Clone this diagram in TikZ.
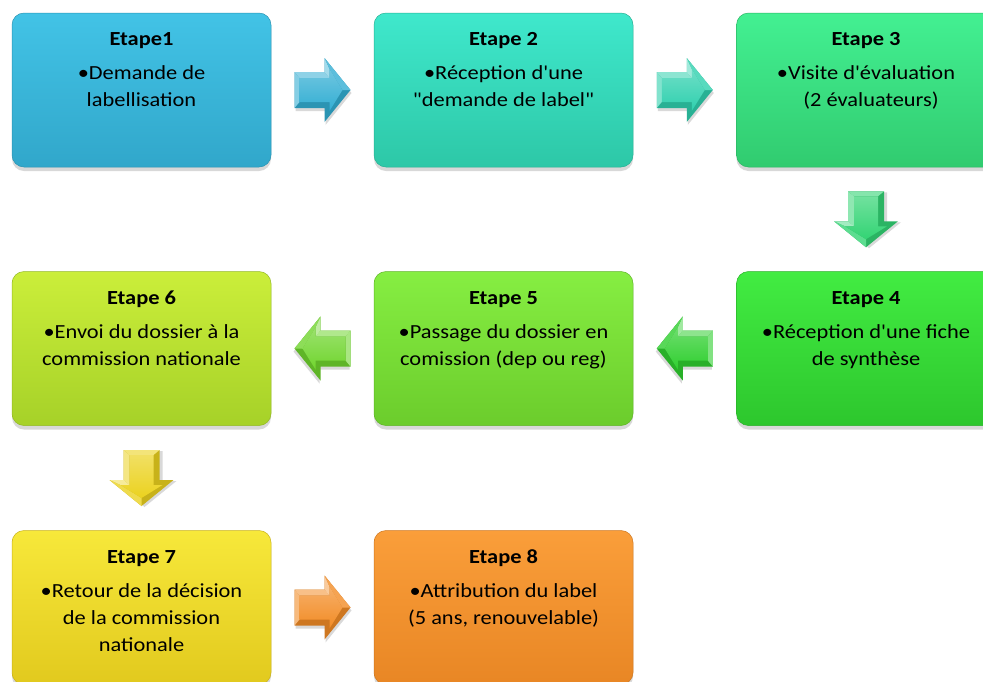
\documentclass[tikz,border=0pt]{standalone}
\usepackage{fontspec}
\setmainfont{Carlito}
\newfontfamily\boxfont[FakeStretch=1.12]{Carlito}
\usetikzlibrary{calc,shadows}
\definecolor{bA}{HTML}{33AED3}\definecolor{tA}{HTML}{42C3E6}
\definecolor{bB}{HTML}{2FD0AE}\definecolor{tB}{HTML}{3FE8CC}
\definecolor{bC}{HTML}{33D474}\definecolor{tC}{HTML}{43F092}
\definecolor{bD}{HTML}{2FCF2F}\definecolor{tD}{HTML}{42EC42}
\definecolor{bE}{HTML}{70D52E}\definecolor{tE}{HTML}{86EE42}
\definecolor{bF}{HTML}{ADDA2A}\definecolor{tF}{HTML}{CBEE3A}
\definecolor{bG}{HTML}{EBD21F}\definecolor{tG}{HTML}{F7E83A}
\definecolor{bH}{HTML}{F28C26}\definecolor{tH}{HTML}{FA9E3A}
\tikzset{
  x=1pt,y=1pt,
  stepbox/.style={rounded corners=12pt, minimum width=259pt, minimum height=154pt,
    inner sep=0pt, draw=b#1!85!black, line width=0.5pt,
    top color=t#1, bottom color=b#1!96!black,
    drop shadow={opacity=0.3, shadow xshift=0pt, shadow yshift=-4pt}},
  titletxt/.style={anchor=base, inner sep=0pt, font=\boxfont\bfseries\fontsize{20}{27}\selectfont},
  bodytxt/.style={anchor=north, inner sep=0pt, align=center, font=\boxfont\fontsize{20}{27}\selectfont},
}
\newcommand{\blockarrow}[4]{% name, center, transform, color
  \begin{scope}[shift={#2}, #3]
    \fill[black, opacity=0.15] (-27,15) -- (3,15) -- (3,29) -- (29,-3) -- (3,-35) -- (3,-21) -- (-27,-21) -- cycle;
    \fill[#4!85!black] (-28,18) -- (2,18) -- (2,32) -- (28,0) -- (2,-32) -- (2,-18) -- (-28,-18) -- cycle;
    \fill[#4!55!white] (-28,18) -- (2,18) -- (7,12) -- (-23,12) -- cycle;
    \fill[#4!45!white] (2,18) -- (2,32) -- (7,21) -- (7,12) -- cycle;
    \fill[#4!80!white] (2,32) -- (28,0) -- (20,0) -- (7,21) -- cycle;
    \fill[#4!60!white] (-28,18) -- (-23,12) -- (-23,-12) -- (-28,-18) -- cycle;
    \shade[top color=#4!70!white, bottom color=#4] (-23,12) -- (7,12) -- (7,21) -- (20,0) -- (7,-21) -- (7,-12) -- (-23,-12) -- cycle;
    \coordinate (#1) at (0,0);
  \end{scope}}
\begin{document}
\begin{tikzpicture}
\useasboundingbox (0,0) rectangle (983,-681);
\clip (0,0) rectangle (983,-681);
\fill[white] (0,0) rectangle (983,-681);
% boxes
\node[stepbox=A] (b1) at (141.5,-90) {};
\node[stepbox=B] (b2) at (503.5,-90) {};
\node[stepbox=C] (b3) at (866,-90) {};
\node[stepbox=D] (b4) at (866,-348.5) {};
\node[stepbox=E] (b5) at (503.5,-348.5) {};
\node[stepbox=F] (b6) at (141.5,-348.5) {};
\node[stepbox=G] (b7) at (141.5,-607.5) {};
\node[stepbox=H] (b8) at (503.5,-607.5) {};
% texts
\node[titletxt] (t1) at ($(b1.north)+(0,-33)$) {Etape1};
\node[bodytxt] (d1) at ($(b1.north)+(0,-48)$) {\strut\textbullet Demande de\\labellisation};
\node[titletxt] (t2) at ($(b2.north)+(0,-33)$) {Etape 2};
\node[bodytxt] (d2) at ($(b2.north)+(0,-48)$) {\strut\textbullet Réception d'une\\"demande de label"};
\node[titletxt] (t3) at ($(b3.north)+(0,-33)$) {Etape 3};
\node[bodytxt] (d3) at ($(b3.north)+(0,-48)$) {\strut\textbullet Visite d'évaluation\\\hspace*{10pt}(2 évaluateurs)};
\node[titletxt] (t4) at ($(b4.north)+(0,-33)$) {Etape 4};
\node[bodytxt] (d4) at ($(b4.north)+(0,-48)$) {\strut\textbullet Réception d'une fiche\\de synthèse};
\node[titletxt] (t5) at ($(b5.north)+(0,-33)$) {Etape 5};
\node[bodytxt] (d5) at ($(b5.north)+(0,-48)$) {\strut\textbullet Passage du dossier en\\comission (dep ou reg)};
\node[titletxt] (t6) at ($(b6.north)+(0,-33)$) {Etape 6};
\node[bodytxt] (d6) at ($(b6.north)+(0,-48)$) {\strut\textbullet Envoi du dossier à la\\commission nationale};
\node[titletxt] (t7) at ($(b7.north)+(0,-33)$) {Etape 7};
\node[bodytxt] (d7) at ($(b7.north)+(0,-48)$) {\strut\textbullet Retour de la décision\\de la commission\\nationale};
\node[titletxt] (t8) at ($(b8.north)+(0,-33)$) {Etape 8};
\node[bodytxt] (d8) at ($(b8.north)+(0,-48)$) {\strut\textbullet Attribution du label\\(5 ans, renouvelable)};
% arrows
\blockarrow{a12}{($(b1.east)!0.5!(b2.west)$)}{}{bA}
\blockarrow{a23}{($(b2.east)!0.5!(b3.west)$)}{}{bB}
\blockarrow{a34}{($(b3.south)!0.5!(b4.north)$)}{rotate=-90,yscale=-1}{bC}
\blockarrow{a45}{($(b4.west)!0.5!(b5.east)$)}{xscale=-1}{bD}
\blockarrow{a56}{($(b5.west)!0.5!(b6.east)$)}{xscale=-1}{bE}
\blockarrow{a67}{($(b6.south)!0.5!(b7.north)$)}{rotate=-90,yscale=-1}{bG}
\blockarrow{a78}{($(b7.east)!0.5!(b8.west)$)}{}{bH}
\end{tikzpicture}
\end{document}
